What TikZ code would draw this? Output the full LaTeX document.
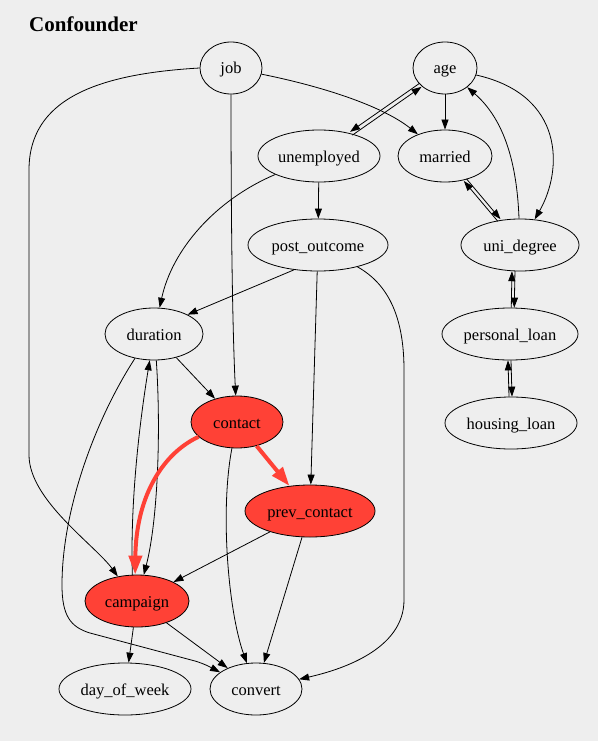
\documentclass[tikz,border=0pt]{standalone}
\usepackage{fontspec}
\setmainfont{Liberation Serif}
\usetikzlibrary{shapes.geometric,arrows.meta}
\definecolor{bg}{HTML}{EEEEEE}
\definecolor{hl}{HTML}{FF4136}
\begin{document}
\begin{tikzpicture}[x=1pt,y=-1pt,
  var/.style={ellipse, draw=black, line width=0.8pt, inner sep=0pt, minimum height=52pt,
              text height=12pt, text depth=0pt,
              font=\fontsize{16.5}{18}\selectfont},
  hot/.style={var, fill=hl},
  edge/.style={-{Triangle[length=10pt,width=7pt]}, line width=0.8pt},
  hedge/.style={-{Triangle[length=19pt,width=13pt]}, line width=4pt, draw=hl, color=hl}
]
\useasboundingbox (0,0) rectangle (598,741);
\fill[bg] (0,0) rectangle (598,741);

\node[anchor=base west, inner sep=0pt, font=\fontsize{21}{24}\selectfont\bfseries] (title) at (29,31.5) {Confounder};

\node[var, minimum width=62pt]  (job)           at (231,68)  {job};
\node[var, minimum width=64pt]  (age)           at (445,68)  {age};
\node[var, minimum width=122pt] (unemployed)    at (319,156) {unemployed};
\node[var, minimum width=94pt]  (married)       at (445,156) {married};
\node[var, minimum width=140pt] (post_outcome)  at (318,245) {post\_outcome};
\node[var, minimum width=118pt] (uni_degree)    at (520,245) {uni\_degree};
\node[var, minimum width=98pt]  (duration)      at (154,334) {duration};
\node[var, minimum width=136pt] (personal_loan) at (510,334) {personal\_loan};
\node[hot, minimum width=92pt]  (contact)       at (237,422) {contact};
\node[var, minimum width=132pt] (housing_loan)  at (511,423) {housing\_loan};
\node[hot, minimum width=130pt] (prev_contact)  at (310,511) {prev\_contact};
\node[hot, minimum width=104pt] (campaign)      at (137,601) {campaign};
\node[var, minimum width=132pt] (day_of_week)   at (125,689) {day\_of\_week};
\node[var, minimum width=92pt]  (convert)       at (256,689) {convert};

% job
\draw[edge] (job.west) .. controls (95,74) and (29,100) .. (29,170) -- (29,455)
            .. controls (29,500) and (95,545) .. (campaign.128);
\draw[edge] (job) .. controls (231,250) and (233,340) .. (contact);
\draw[edge] (job) .. controls (330,88) and (385,108) .. (married);

% age
\draw[edge, transform canvas={shift={(1.15,1.65)}}] (unemployed) -- (age);
\draw[edge, transform canvas={shift={(-1.15,-1.65)}}] (age) -- (unemployed);
\draw[edge] (age) -- (married);
\draw[edge] (age) .. controls (565,95) and (563,170) .. (uni_degree);
\draw[edge] (uni_degree) .. controls (517,165) and (505,120) .. (age);

% married / uni_degree / loans
\draw[edge, transform canvas={shift={(1.3,-1.1)}}] (married) -- (uni_degree);
\draw[edge, transform canvas={shift={(-1.3,1.1)}}] (uni_degree) -- (married);
\draw[edge] ([xshift=1.5pt]uni_degree.256) -- ([xshift=1.5pt]personal_loan.84);
\draw[edge] ([xshift=-1.5pt]personal_loan.84) -- ([xshift=-1.5pt]uni_degree.256);
\draw[edge] ([xshift=1pt]personal_loan.south) -- ([xshift=1pt]housing_loan.north);
\draw[edge] ([xshift=-2pt]housing_loan.north) -- ([xshift=-2pt]personal_loan.south);

% unemployed / post_outcome
\draw[edge] (unemployed) -- (post_outcome);
\draw[edge] (unemployed) .. controls (215,200) and (172,250) .. (duration);
\draw[edge] (post_outcome.226) -- (duration.30);
\draw[edge] (post_outcome) -- (prev_contact);
\draw[edge] (post_outcome.-29) .. controls (390,285) and (404,320) .. (404,370) -- (404,600)
            .. controls (404,650) and (340,670) .. (convert);

% duration
\draw[edge] (duration) -- (contact);
\draw[edge] (duration.-85) .. controls (161,430) and (158,520) .. (campaign);
\draw[edge] (campaign.100) .. controls (130,500) and (140,420) .. (duration);
\draw[edge] (duration.232) .. controls (95,420) and (62,510) .. (62,585)
            .. controls (62,615) and (70,627) .. (90,633) -- (195,661)
            .. controls (205,664) and (212,668) .. (convert.155);

% contact
\draw[hedge] (contact.201) .. controls (160,455) and (136,500) .. (campaign.94);
\draw[hedge] (contact) -- (prev_contact);
\draw[edge] (contact) .. controls (220,510) and (228,610) .. (convert);

% prev_contact, campaign
\draw[edge] (prev_contact) -- (campaign);
\draw[edge] (prev_contact) -- (convert);
\draw[edge] (campaign) -- (day_of_week);
\draw[edge] (campaign) -- (convert);
\end{tikzpicture}
\end{document}
